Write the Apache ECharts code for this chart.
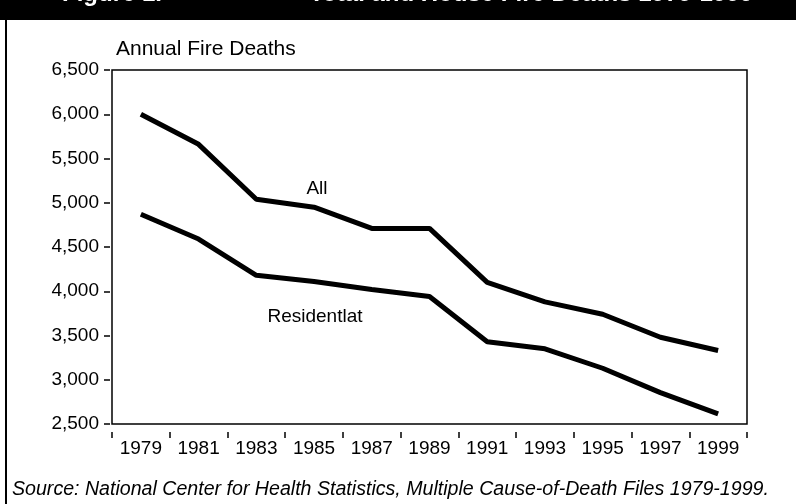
<!DOCTYPE html>
<html>
<head>
<meta charset="utf-8">
<script src="https://cdn.jsdelivr.net/npm/echarts@6/dist/echarts.min.js"></script>
<style>
  html, body { margin: 0; padding: 0; background: #fff; }
  #chart { width: 796px; height: 504px; }
</style>
</head>
<body>
<div id="chart"></div>
<script>
// 数据
var years = ['1979', '1981', '1983', '1985', '1987', '1989', '1991', '1993', '1995', '1997', '1999'];
var allDeaths = [6000, 5660, 5040, 4950, 4710, 4710, 4100, 3880, 3740, 3480, 3330];
var residentialDeaths = [4870, 4590, 4180, 4110, 4020, 3940, 3430, 3350, 3130, 2855, 2615];
var yMin = 2500, yMax = 6500, yStep = 500;

var FONT = '"Liberation Sans", Arial, sans-serif';

function fmtThousands(v) {
    return String(v).replace(/\B(?=(\d{3})+(?!\d))/g, ',');
}

var myChart = echarts.init(document.getElementById('chart'), null, { renderer: 'canvas' });

var option = {
    backgroundColor: '#fff',
    animation: false,
    grid: {
        left: 112,
        right: 49,
        top: 70,
        bottom: 80,
        show: true,
        borderColor: '#000',
        borderWidth: 1.5,
        backgroundColor: 'transparent'
    },
    xAxis: {
        type: 'category',
        data: years,
        boundaryGap: true,
        offset: 8,
        axisLine: { show: false },
        axisTick: { show: true, length: 6, lineStyle: { color: '#000', width: 1.5 } },
        axisLabel: { interval: 0, margin: 7, color: '#000', fontSize: 19, fontFamily: FONT },
        splitLine: { show: false }
    },
    yAxis: {
        type: 'value',
        min: yMin,
        max: yMax,
        interval: yStep,
        offset: 2,
        axisLine: { show: false },
        axisTick: { show: true, length: 6, lineStyle: { color: '#000', width: 1.5 } },
        axisLabel: {
            margin: 11,
            color: '#000',
            fontSize: 19,
            fontFamily: FONT,
            formatter: fmtThousands
        },
        splitLine: { show: false }
    },
    series: [{
        name: 'All',
        type: 'line',
        data: allDeaths,
        symbol: 'none',
        lineStyle: { color: '#000', width: 5 }
    }, {
        name: 'Residential',
        type: 'line',
        data: residentialDeaths,
        symbol: 'none',
        lineStyle: { color: '#000', width: 5 }
    }],
    graphic: [
        // 标题黑条
        { type: 'rect', left: 0, top: 0, shape: { width: 796, height: 20 }, style: { fill: '#000' } },
        { type: 'text', x: 62, y: -17.5, style: { text: 'Figure 1.', fill: '#fff', font: 'bold 24px "Liberation Sans", sans-serif', verticalAlign: 'top' } },
        { type: 'text', x: 753, y: -17.5, style: { text: 'Total and House Fire Deaths 1979-1999', fill: '#fff', font: 'bold 24px "Liberation Sans", sans-serif', align: 'right', verticalAlign: 'top' } },
        // 左边框
        { type: 'line', shape: { x1: 6, y1: 20, x2: 6, y2: 504 }, style: { stroke: '#000', lineWidth: 2 } },
        // 轴标题
        { type: 'text', x: 116, y: 39, style: { text: 'Annual Fire Deaths', fill: '#000', font: '21px ' + FONT, verticalAlign: 'top' } },
        // 线条标注
        { type: 'text', x: 317, y: 189, style: { text: 'All', fill: '#000', font: '19px ' + FONT, align: 'center', verticalAlign: 'middle' } },
        { type: 'text', x: 315, y: 317, style: { text: 'Residentlat', fill: '#000', font: '19px ' + FONT, align: 'center', verticalAlign: 'middle' } },
        // 来源
        { type: 'text', x: 12, y: 490, style: { text: 'Source: National Center for Health Statistics, Multiple Cause-of-Death Files 1979-1999.', fill: '#000', font: 'italic 19.6px ' + FONT, verticalAlign: 'middle' } }
    ]
};
myChart.setOption(option);
</script>
</body>
</html>
